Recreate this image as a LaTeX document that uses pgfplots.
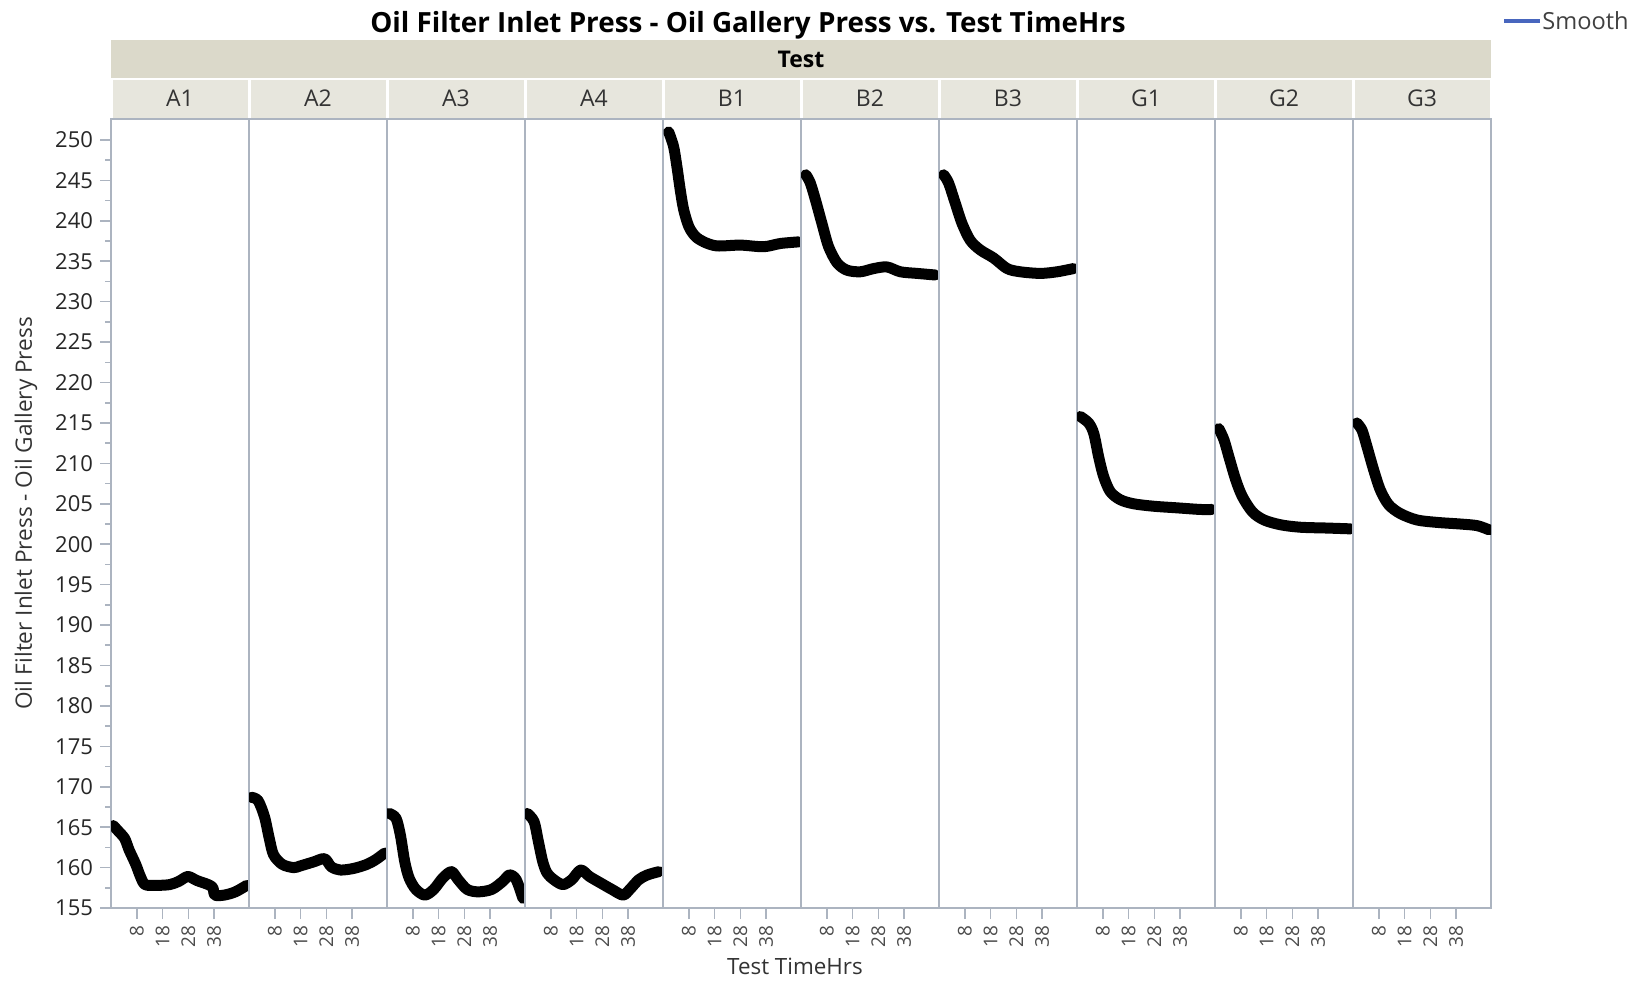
\documentclass[border=0pt]{standalone}
\usepackage{fontspec}
\setmainfont{Open Sans}
\usepackage{pgfplots}
\pgfplotsset{compat=1.18}
\usepgfplotslibrary{groupplots}
\usetikzlibrary{calc}

\definecolor{axisgray}{RGB}{172,180,192}
\definecolor{stripdark}{RGB}{219,217,202}
\definecolor{striplight}{RGB}{231,230,221}
\definecolor{smoothblue}{RGB}{72,102,190}

\pgfplotsset{
  panel/.style={
    width=69pt, height=394.5pt, scale only axis,
    xmin=-2, xmax=51.5, ymin=155, ymax=252.6,
    axis line style={axisgray, line width=0.8pt},
    xtick={8,18,28,38}, xtick pos=lower, ytick=\empty,
    tick align=outside, major tick length=5.5pt, minor tick length=2.8pt,
    tick style={axisgray, line width=0.8pt},
    xticklabel style={rotate=90, anchor=east, font=\fontsize{9.5}{10}\selectfont, text=black!70},
    yticklabel style={font=\fontsize{11}{12}\selectfont, text=black!85},
    /pgf/number format/assume math mode=true,
    every axis title/.style={at={(0.5,1)}, anchor=south, yshift=0.5pt, fill=striplight,
      minimum width=67.5pt, minimum height=19pt, inner sep=0pt,
      font=\fontsize{11.5}{12}\selectfont, text=black!80},
  },
  data/.style={black, line width=5.5pt, line join=round, line cap=round, smooth, tension=0.5},
}

\begin{document}
\begin{tikzpicture}
\begin{groupplot}[group style={group size=10 by 1, horizontal sep=0pt}, panel]
% A1
\nextgroupplot[title=A1, ytick={155,160,...,250}, minor y tick num=1, ytick pos=left]
\addplot[data] coordinates {
 (-1.1,165.2) (0.6,164.6) (3.3,163.6) (5.0,162.2) (7.6,160.4) (9.4,158.9) (11.2,157.9)
 (15.5,157.8) (20.8,157.9) (24.3,158.3) (27.8,158.9) (31.3,158.4) (35.7,157.9) (37.5,157.5)
 (38.3,156.6) (41.9,156.6) (46.2,157.0) (50.6,157.8)
};
\coordinate (sw) at (rel axis cs:0,0);
\coordinate (nw) at (rel axis cs:0,1);
% A2
\nextgroupplot[title=A2]
\addplot[data] coordinates {
 (-1.1,168.7) (1.5,168.3) (4.0,166.3) (5.8,163.7) (7.5,161.6) (10.9,160.4) (15.3,160.0)
 (17.8,160.2) (23.0,160.7) (27.3,161.1) (29.9,160.1) (33.4,159.7) (38.6,159.9) (43.7,160.4)
 (47.2,161.0) (50.6,161.8)
};
% A3
\nextgroupplot[title=A3]
\addplot[data] coordinates {
 (-1.1,166.7) (1.5,166.1) (3.2,164.0) (4.9,160.7) (6.6,158.7) (9.2,157.3) (12.7,156.6)
 (16.1,157.3) (19.6,158.7) (23.0,159.5) (25.6,158.5) (29.1,157.3) (33.4,157.0) (38.6,157.3)
 (42.9,158.3) (45.5,159.1) (48.1,158.5) (50.7,156.2)
};
% A4
\nextgroupplot[title=A4]
\addplot[data] coordinates {
 (-1.1,166.7) (1.5,165.7) (3.2,163.2) (4.9,160.7) (6.6,159.3) (9.2,158.5) (12.7,157.9)
 (16.1,158.5) (19.6,159.7) (23.0,158.9) (27.3,158.1) (31.7,157.3) (36.0,156.6) (38.6,157.3)
 (42.1,158.5) (45.5,159.1) (49.9,159.5)
};
% B1
\nextgroupplot[title=B1]
\addplot[data] coordinates {
 (0.2,251.0) (2.1,249.2) (3.4,246.7) (4.7,243.8) (6.0,241.4) (8.0,239.3) (10.5,238.1)
 (13.8,237.4) (18.9,236.9) (28.0,237.0) (37.0,236.8) (43.5,237.2) (50.6,237.4)
};
% B2
\nextgroupplot[title=B2]
\addplot[data] coordinates {
 (-0.1,245.7) (1.6,244.7) (3.6,242.6) (6.1,239.7) (8.7,236.8) (12.0,234.8) (15.8,233.9)
 (21.0,233.7) (26.2,234.1) (31.3,234.3) (36.5,233.7) (43.0,233.5) (50.1,233.3)
};
% B3
\nextgroupplot[title=B3]
\addplot[data] coordinates {
 (-0.2,245.7) (1.7,244.7) (4.3,242.2) (6.9,239.7) (10.1,237.6) (14.0,236.4) (19.2,235.4)
 (24.4,234.1) (29.5,233.7) (37.3,233.5) (43.8,233.7) (50.2,234.1)
};
% G1
\nextgroupplot[title=G1]
\addplot[data] coordinates {
 (-0.7,215.8) (2.5,215.0) (4.5,213.7) (6.4,210.8) (8.3,208.4) (10.9,206.5) (14.8,205.5)
 (20.0,205.0) (27.7,204.7) (36.8,204.5) (45.8,204.3) (50.3,204.3)
};
% G2
\nextgroupplot[title=G2]
\addplot[data] coordinates {
 (-0.5,214.3) (1.5,212.9) (3.4,210.8) (6.0,208.0) (8.6,205.9) (12.5,204.0) (17.0,203.0)
 (23.5,202.4) (31.2,202.1) (41.6,202.0) (50.6,201.9)
};
% G3
\nextgroupplot[title=G3]
\addplot[data] coordinates {
 (-0.5,215.0) (1.5,214.1) (3.4,212.1) (6.0,209.2) (8.6,206.7) (11.8,204.9) (16.3,203.8)
 (22.8,203.0) (30.6,202.7) (39.6,202.5) (46.1,202.3) (50.6,201.8)
};
\coordinate (ne) at (rel axis cs:1,1);
\coordinate (se) at (rel axis cs:1,0);
\end{groupplot}

% Test strip
\fill[stripdark] ($(nw)+(0,20.5pt)$) rectangle ($(ne)+(0,39.5pt)$);
\node[font=\bfseries\fontsize{11.5}{12}\selectfont] at ($($(nw)!0.5!(ne)$)+(0,30pt)$) {Test};
% title
\node[font=\bfseries\fontsize{13.9}{15}\selectfont] at ($(nw)+(318.5pt,47pt)$)
  {Oil Filter Inlet Press - Oil Gallery Press vs. Test TimeHrs};
% legend
\draw[smoothblue, line width=1.6pt] ($(ne)+(6.5pt,49pt)$) -- ++(18pt,0);
\node[anchor=west, inner sep=0pt, font=\fontsize{11.8}{12}\selectfont, text=black!75]
  at ($(ne)+(25.5pt,49pt)$) {Smooth};
% axis labels
\node[rotate=90, font=\fontsize{11.3}{12}\selectfont, text=black!80]
  at ($($(sw)!0.5!(nw)$)+(-42.5pt,0)$) {Oil Filter Inlet Press - Oil Gallery Press};
\node[font=\fontsize{11.2}{12}\selectfont, text=black!80]
  at ($(sw)+(342pt,-29pt)$) {Test TimeHrs};
% page frame
\path ($(sw)+(-55.5pt,-36.5pt)$) rectangle ($(ne)+(80.5pt,59.5pt)$);
\end{tikzpicture}
\end{document}
